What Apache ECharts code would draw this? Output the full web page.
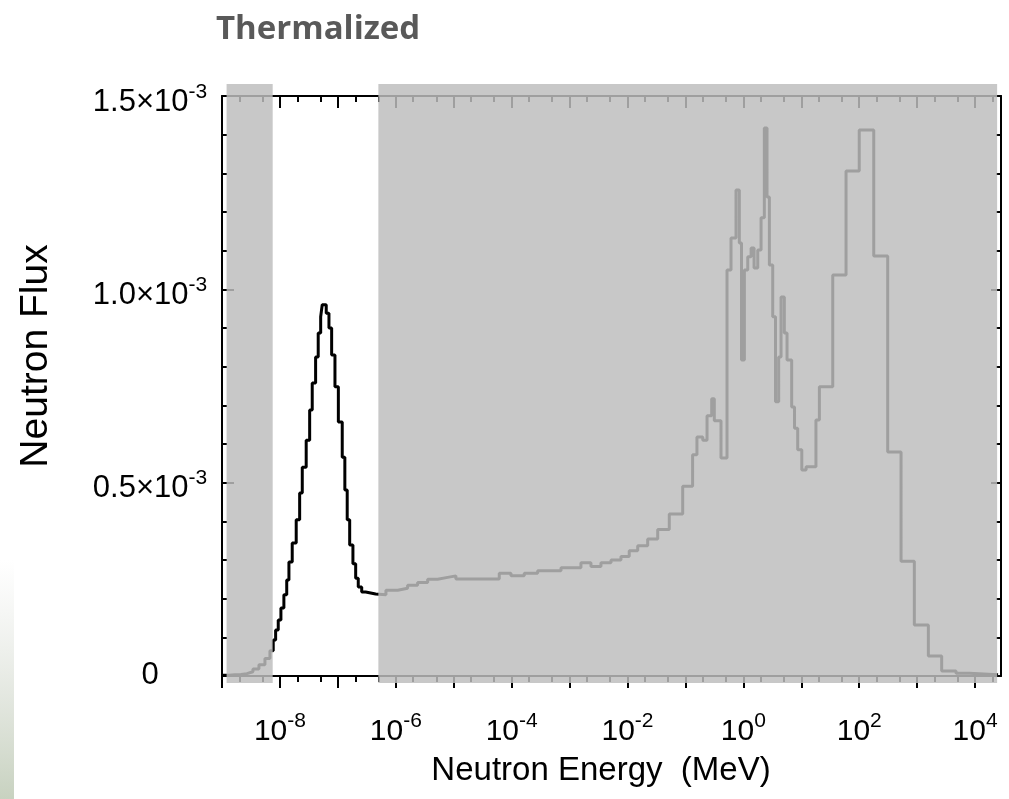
<!DOCTYPE html>
<html>
<head>
<meta charset="utf-8">
<title>Thermalized</title>
<script src="https://cdn.jsdelivr.net/npm/echarts@6.0.0/dist/echarts.min.js"></script>
<style>
  html, body { margin: 0; padding: 0; background: #fff; }
  #chart { width: 1009px; height: 799px; }
</style>
</head>
<body>
<div id="chart"></div>
<script>
// neutron energy (MeV), left edge of each histogram bin
const energyMeV = [
  1.0e-9, 1.32e-9, 1.67e-9, 2.12e-9, 2.69e-9, 3.42e-9, 4.34e-9, 5.51e-9, 6.72e-9,
  7.66e-9, 8.43e-9, 9.35e-9, 1.04e-8, 1.17e-8, 1.31e-8, 1.43e-8, 1.63e-8, 1.91e-8,
  2.19e-8, 2.43e-8, 2.84e-8, 3.26e-8, 3.61e-8, 4.13e-8, 4.58e-8, 5.05e-8, 5.37e-8,
  6.30e-8, 7.02e-8, 7.81e-8, 8.91e-8, 1.02e-7, 1.19e-7, 1.32e-7, 1.45e-7, 1.60e-7,
  1.82e-7, 2.03e-7, 2.25e-7, 2.58e-7, 3.02e-7, 4.49e-7,
  6.76e-7, 1.08e-6, 1.60e-6, 2.38e-6, 3.55e-6, 5.28e-6, 7.85e-6, 1.09e-5, 6.11e-5,
  9.73e-5, 1.65e-4, 2.81e-4, 7.11e-4, 1.57e-3, 2.34e-3, 3.48e-3, 5.19e-3, 7.71e-3,
  1.07e-2, 1.50e-2, 2.23e-2, 3.32e-2, 5.26e-2, 8.97e-2,
  0.133, 0.158, 0.199, 0.236, 0.284, 0.315, 0.411, 0.522, 0.612, 0.746, 0.851, 0.929,
  1.04, 1.19, 1.36, 1.53, 1.77, 2.02, 2.30, 2.56, 2.81, 3.21, 3.59, 4.07, 4.47, 5.09,
  5.67, 6.82, 7.64, 8.67, 10.2, 12.1, 17.9, 20.5, 34.9, 59.2, 100, 178, 310, 527, 893,
  1560, 2650, 4690, 7960, 2.49e4
]
// flux of each bin
const neutronFlux = [
  0.002e-3, 0.003e-3, 0.004e-3, 0.006e-3, 0.011e-3, 0.018e-3, 0.029e-3, 0.045e-3, 0.065e-3,
  0.093e-3, 0.119e-3, 0.145e-3, 0.176e-3, 0.210e-3, 0.248e-3, 0.295e-3, 0.344e-3, 0.404e-3,
  0.473e-3, 0.540e-3, 0.610e-3, 0.688e-3, 0.758e-3, 0.825e-3, 0.887e-3, 0.929e-3, 0.960e-3,
  0.938e-3, 0.900e-3, 0.830e-3, 0.748e-3, 0.657e-3, 0.566e-3, 0.481e-3, 0.404e-3, 0.339e-3,
  0.290e-3, 0.253e-3, 0.230e-3, 0.217e-3, 0.212e-3, 0.210e-3,
  0.222e-3, 0.227e-3, 0.235e-3, 0.242e-3, 0.250e-3, 0.255e-3, 0.259e-3, 0.251e-3, 0.266e-3,
  0.259e-3, 0.266e-3, 0.272e-3, 0.280e-3, 0.293e-3, 0.283e-3, 0.293e-3, 0.300e-3, 0.309e-3,
  0.324e-3, 0.337e-3, 0.354e-3, 0.379e-3, 0.419e-3, 0.491e-3,
  0.572e-3, 0.618e-3, 0.610e-3, 0.673e-3, 0.717e-3, 0.660e-3, 0.564e-3, 1.050e-3, 1.133e-3, 1.257e-3, 1.120e-3, 0.817e-3,
  1.050e-3, 1.084e-3, 1.107e-3, 1.055e-3, 1.102e-3, 1.185e-3, 1.417e-3, 1.239e-3, 1.063e-3, 0.929e-3, 0.709e-3, 0.825e-3, 0.980e-3, 0.887e-3,
  0.817e-3, 0.696e-3, 0.641e-3, 0.585e-3, 0.533e-3, 0.541e-3, 0.662e-3, 0.748e-3, 1.037e-3, 1.306e-3, 1.412e-3, 1.086e-3, 0.579e-3, 0.297e-3, 0.132e-3,
  0.052e-3, 0.013e-3, 0.007e-3, 0.003e-3, 0.003e-3
]
// shaded (non thermal) energy ranges, MeV
const bandStart = [1.2e-9, 5.0e-7]
const bandEnd = [7.5e-9, 2.4e4]
// axis ticks
const decadeTicks = [1e-9, 1e-8, 1e-7, 1e-6, 1e-5, 1e-4, 1e-3, 1e-2, 1e-1, 1, 10, 100, 1000, 1e4]
const labelTicks = [1e-8, 1e-6, 1e-4, 1e-2, 1, 100, 1e4]
const minorTicks = [2e-9, 5e-9, 2e-8, 5e-8, 2e-7, 5e-7, 2e-6, 5e-6, 2e-5, 5e-5, 2e-4, 5e-4,
  2e-3, 5e-3, 0.02, 0.05, 0.2, 0.5, 2, 5, 20, 50, 200, 500, 2000, 5000, 2e4]

const xMin = 1e-9
const xMax = 2.8e4
const yMax = 1.5e-3
const FONT = '"Liberation Sans", Arial, sans-serif'
const black = { color: '#000', width: 2 }

const chart = echarts.init(document.getElementById('chart'), null, { renderer: 'canvas' })

function logAxis(position, extra) {
  return Object.assign({
    type: 'log',
    logBase: 10,
    min: xMin,
    max: xMax,
    position: position,
    axisLine: { show: true, onZero: false, lineStyle: black },
    axisLabel: { show: false },
    splitLine: { show: false },
    minorTick: { show: false }
  }, extra)
}

function fluxAxis(position, extra) {
  return Object.assign({
    type: 'value',
    min: 0,
    max: yMax,
    interval: 0.5e-3,
    position: position,
    axisLine: { show: true, onZero: false, lineStyle: black },
    axisTick: { show: true, inside: true, length: 12, lineStyle: black },
    minorTick: { show: true, splitNumber: 5, length: 5, lineStyle: black },
    axisLabel: { show: false },
    splitLine: { show: false }
  }, extra)
}

const option = {
  animation: false,
  backgroundColor: '#fff',
  grid: { left: 222, top: 96, width: 779, height: 580 },
  xAxis: [
    logAxis('bottom', {
      axisTick: { show: true, customValues: decadeTicks, inside: false, length: 12, lineStyle: black },
      axisLabel: {
        show: true,
        customValues: labelTicks,
        margin: 35,
        formatter: v => '{b|10}{s|' + Math.round(Math.log10(v)) + '}',
        rich: {
          b: { fontFamily: FONT, fontSize: 30, lineHeight: 36, color: '#000', verticalAlign: 'bottom' },
          s: { fontFamily: FONT, fontSize: 21, lineHeight: 18, color: '#000', verticalAlign: 'top' }
        }
      }
    }),
    logAxis('top', {
      axisTick: { show: true, customValues: decadeTicks, inside: true, length: 12, lineStyle: black }
    }),
    logAxis('bottom', {
      axisLine: { show: false, onZero: false },
      axisTick: { show: true, customValues: minorTicks, inside: false, length: 6, lineStyle: black }
    }),
    logAxis('top', {
      axisLine: { show: false, onZero: false },
      axisTick: { show: true, customValues: minorTicks, inside: true, length: 6, lineStyle: black }
    })
  ],
  yAxis: [
    fluxAxis('left', {
      axisLabel: {
        show: true,
        margin: 72,
        align: 'center',
        padding: [7, 0, 0, 0],
        formatter: v => v === 0 ? '{z|0}' : '{b|' + (v * 1e3).toFixed(1) + '×10}{s|-3}',
        rich: {
          b: { fontFamily: FONT, fontSize: 31, lineHeight: 36, color: '#000', verticalAlign: 'bottom' },
          s: { fontFamily: FONT, fontSize: 21, lineHeight: 18, color: '#000', verticalAlign: 'top' },
          z: { fontFamily: FONT, fontSize: 31, lineHeight: 36, color: '#000', padding: [0, 0, 8, 0] }
        }
      }
    }),
    fluxAxis('right', {
      axisTick: { show: true, inside: true, length: 10, lineStyle: black }
    })
  ],
  graphic: [
    {
      type: 'text', x: 216, y: 30,
      style: { text: 'Thermalized', font: 'bold 33px "Open Sans"', fill: '#595959', verticalAlign: 'middle' }
    },
    {
      type: 'text', x: 36, y: 356, rotation: Math.PI / 2,
      style: { text: 'Neutron Flux', font: '39px ' + FONT, fill: '#000', align: 'center', verticalAlign: 'middle' }
    },
    {
      type: 'text', x: 601, y: 771,
      style: { text: 'Neutron Energy  (MeV)', font: '33px ' + FONT, fill: '#000', align: 'center', verticalAlign: 'middle' }
    },
    {
      type: 'rect', x: 0, y: 560, z: -1,
      shape: { width: 14, height: 239 },
      style: {
        fill: new echarts.graphic.LinearGradient(0, 0, 0, 1, [
          { offset: 0, color: 'rgba(215,218,212,0)' },
          { offset: 1, color: 'rgba(200,210,192,1)' }
        ])
      }
    }
  ],
  series: [
    {
      type: 'line',
      step: 'end',
      symbol: 'none',
      silent: true,
      z: 3,
      lineStyle: { color: '#000', width: 3 },
      data: energyMeV.map((e, i) => [e, neutronFlux[i]])
    },
    {
      // gray shading over the non thermal part of the spectrum
      type: 'custom',
      silent: true,
      clip: false,
      z: 10,
      encode: { x: [0, 1], y: 2 },
      data: bandStart.map((s, i) => [s, bandEnd[i], 0]),
      renderItem: function(params, api) {
        const a = api.coord([api.value(0), yMax])
        const b = api.coord([api.value(1), 0])
        return {
          type: 'rect',
          shape: { x: a[0], y: a[1] - 12, width: b[0] - a[0], height: b[1] - a[1] + 19 },
          style: { fill: 'rgba(190,190,190,0.84)' }
        }
      }
    }
  ]
}

chart.setOption(option)
</script>
</body>
</html>
